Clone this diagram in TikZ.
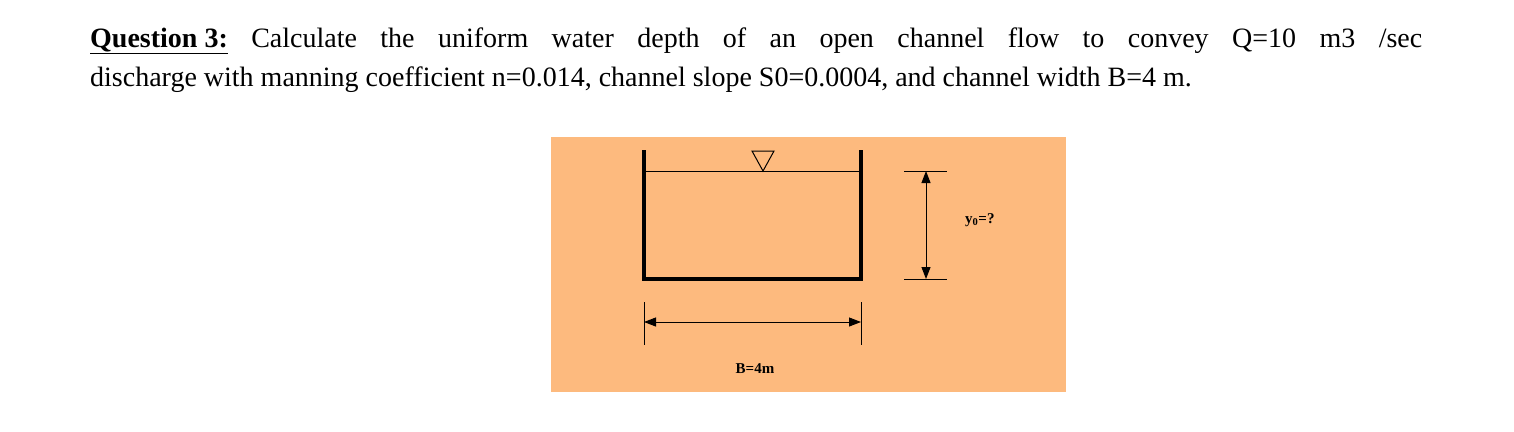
\documentclass[tikz,border=0pt]{standalone}
\usepackage{fontspec}
\setmainfont{Liberation Serif}
\usetikzlibrary{arrows.meta}
\begin{document}
\begin{tikzpicture}[x=1pt,y=-1pt,
  dim/.style={line width=1pt,{Triangle[length=12pt,width=9pt]}-{Triangle[length=12pt,width=9pt]}},
  thin/.style={line width=1pt},
  lbl/.style={font=\bfseries\fontsize{15}{18}\selectfont,inner sep=0pt}]
\useasboundingbox (0,0) rectangle (1514,431);
\fill[white] (0,0) rectangle (1514,431);
\node[anchor=base west,inner sep=0pt,font=\fontsize{28}{34}\selectfont] (l1) at (90,47)
  {\makebox[1332pt][s]{\textbf{\underline{Question 3:}} Calculate the uniform water depth of an open channel flow to convey Q=10 m3 /sec}};
\node[anchor=base west,inner sep=0pt,font=\fontsize{28}{34}\selectfont] (l2) at (90,86)
  {discharge with manning coefficient n=0.014, channel slope S0=0.0004, and channel width B=4 m.};
\fill[fill={rgb,255:red,253;green,186;blue,126}] (551,137) rectangle (1066,392);
\draw[line width=3.5pt] (644,150) -- (644,279) -- (861,279) -- (861,150);
\draw[thin] (645,171) -- (859,171);
\draw[line width=1pt] (763,171) -- (752,151) -- (774,151) -- cycle;
\coordinate (t1) at (926,171); \coordinate (t2) at (926,279);
\draw[thin] (904,171) -- (947,171); \draw[thin] (904,279) -- (947,279);
\draw[dim] (t1) -- (t2);
\node[lbl,anchor=west] (y0) at (965,220) {y\textsubscript{0}=?};
\coordinate (b1) at (644,322); \coordinate (b2) at (861,322);
\draw[thin] (644,302) -- (644,345); \draw[thin] (861,302) -- (861,345);
\draw[dim] (b1) -- (b2);
\node[lbl] (B) at (755,369) {B=4m};
\end{tikzpicture}
\end{document}
